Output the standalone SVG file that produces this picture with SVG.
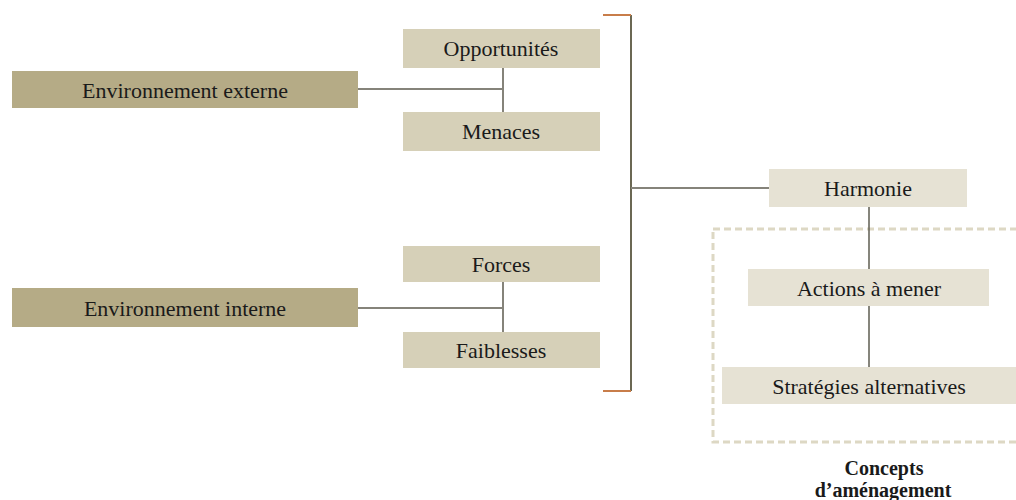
<svg xmlns="http://www.w3.org/2000/svg" width="1016" height="500" viewBox="0 0 1016 500">
  <style>
    .t { font-family: "Liberation Serif", "Times New Roman", serif; font-size: 22px; fill: #1a1a1a; text-anchor: middle; }
    .b { font-family: "Liberation Serif", "Times New Roman", serif; font-size: 20px; font-weight: bold; fill: #1a1a1a; text-anchor: middle; }
    .dark { fill: #b5ab86; }
    .mid { fill: #d6d0b8; }
    .light { fill: #e6e2d4; }
    .c { stroke: #85837a; stroke-width: 2; fill: none; }
  </style>
  <rect width="1016" height="500" fill="#ffffff"/>

  <rect x="713" y="229" width="320" height="213" fill="none" stroke="#ddd8c4" stroke-width="3" stroke-dasharray="7 4"/>

  <g id="connectors">
    <line class="c" x1="358" y1="89" x2="503" y2="89"/>
    <line class="c" x1="503" y1="68" x2="503" y2="112"/>
    <line class="c" x1="358" y1="308" x2="503" y2="308"/>
    <line class="c" x1="503" y1="282" x2="503" y2="332"/>
    <line x1="631" y1="15" x2="631" y2="391" stroke="#6b6853" stroke-width="2"/>
    <line x1="603" y1="15" x2="631" y2="15" stroke="#c87d4a" stroke-width="2"/>
    <line x1="603" y1="391" x2="631" y2="391" stroke="#c87d4a" stroke-width="2"/>
    <line class="c" x1="631" y1="188" x2="769" y2="188"/>
    <line x1="869" y1="207" x2="869" y2="269" stroke="#5e5c50" stroke-width="1.5"/>
    <line x1="869" y1="306" x2="869" y2="367" stroke="#5e5c50" stroke-width="1.5"/>
  </g>

  <g id="env-externe">
    <rect class="dark" x="12" y="71" width="346" height="37"/>
    <text class="t" x="185" y="98">Environnement externe</text>
  </g>
  <g id="opportunites">
    <rect class="mid" x="403" y="29" width="197" height="39"/>
    <text class="t" x="501" y="56">Opportunités</text>
  </g>
  <g id="menaces">
    <rect class="mid" x="403" y="112" width="197" height="39"/>
    <text class="t" x="501" y="139">Menaces</text>
  </g>
  <g id="env-interne">
    <rect class="dark" x="12" y="288" width="346" height="39"/>
    <text class="t" x="185" y="316">Environnement interne</text>
  </g>
  <g id="forces">
    <rect class="mid" x="403" y="246" width="197" height="36"/>
    <text class="t" x="501" y="272">Forces</text>
  </g>
  <g id="faiblesses">
    <rect class="mid" x="403" y="332" width="197" height="36"/>
    <text class="t" x="501" y="358">Faiblesses</text>
  </g>
  <g id="harmonie">
    <rect class="light" x="769" y="169" width="198" height="38"/>
    <text class="t" x="868" y="196">Harmonie</text>
  </g>
  <g id="actions">
    <rect class="light" x="748" y="269" width="241" height="37"/>
    <text class="t" x="869" y="296">Actions à mener</text>
  </g>
  <g id="strategies">
    <rect class="light" x="722" y="367" width="294" height="37"/>
    <text class="t" x="869" y="394">Stratégies alternatives</text>
  </g>
  <g id="concepts-label">
    <text class="b" x="884" y="475">Concepts</text>
    <text class="b" x="883" y="497">d’aménagement</text>
  </g>
</svg>
